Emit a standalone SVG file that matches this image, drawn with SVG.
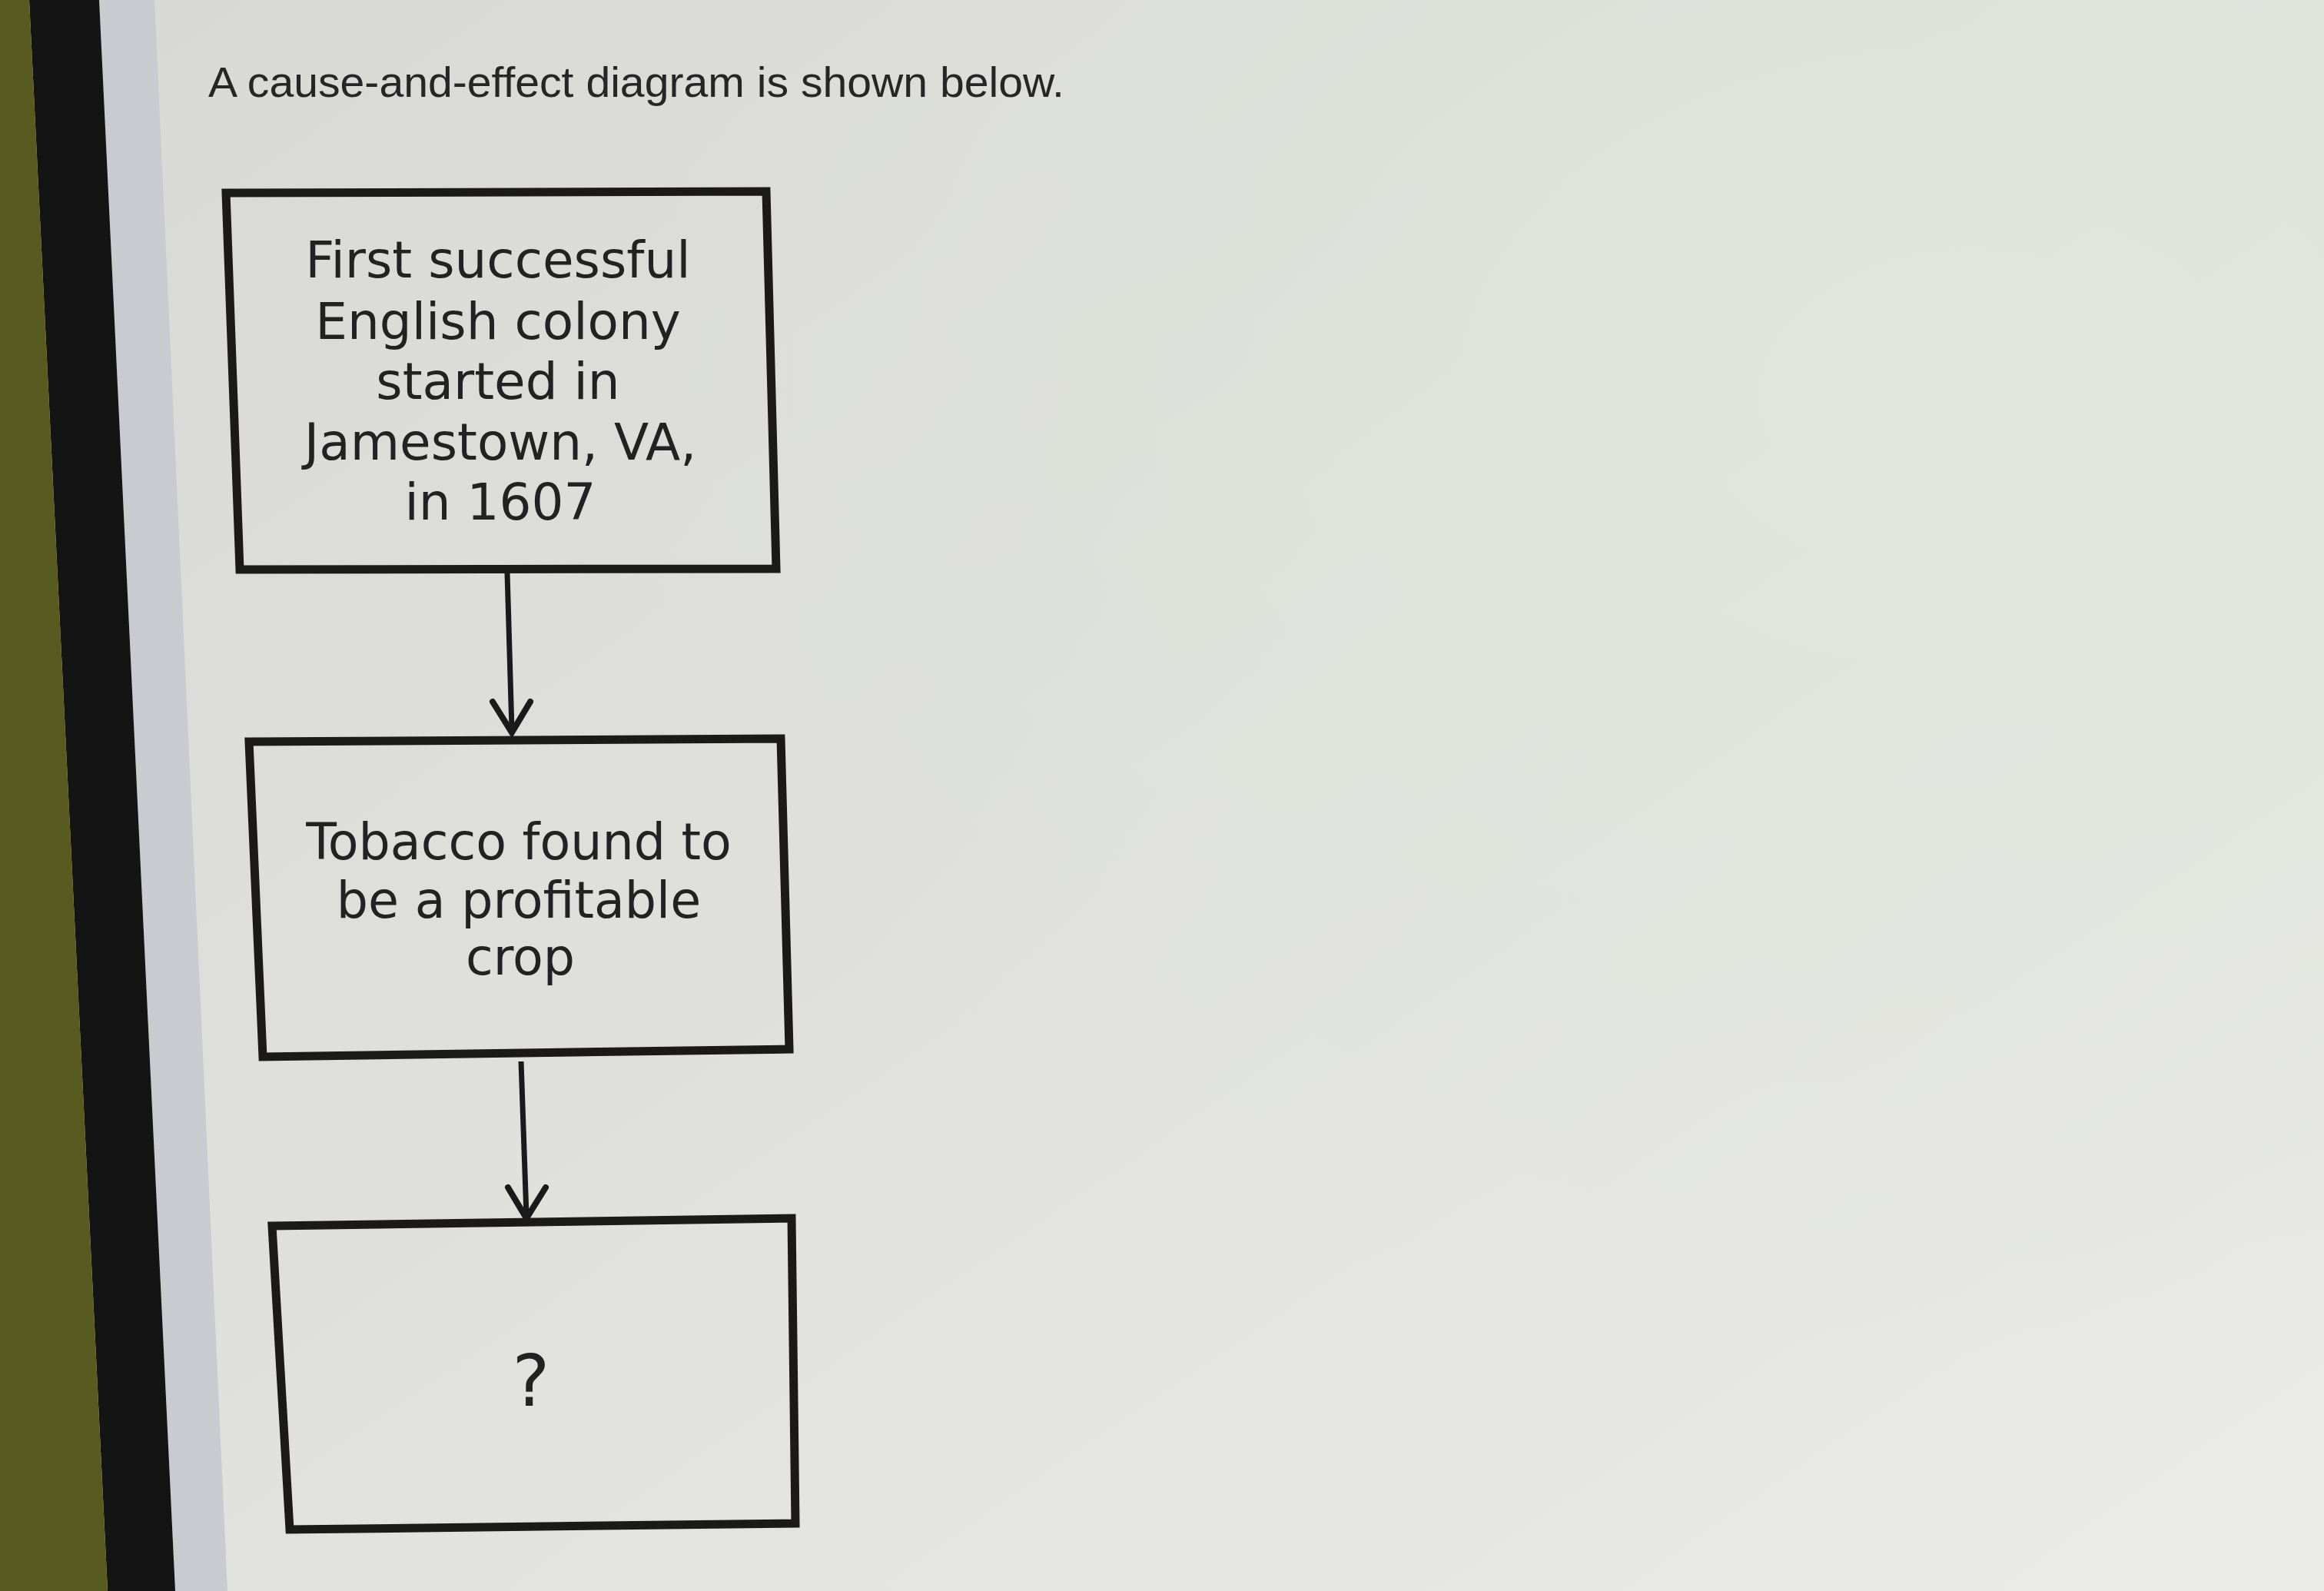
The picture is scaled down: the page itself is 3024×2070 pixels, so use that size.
<svg xmlns="http://www.w3.org/2000/svg" width="3024" height="2070" viewBox="0 0 3024 2070">
  <defs>
    <linearGradient id="screen" x1="0" y1="0" x2="1" y2="1">
      <stop offset="0" stop-color="#d8d8d4"/>
      <stop offset="0.45" stop-color="#dfe0dc"/>
      <stop offset="1" stop-color="#ebebe8"/>
    </linearGradient>
    <radialGradient id="moire" cx="0.85" cy="0.25" r="0.6">
      <stop offset="0" stop-color="#e2e6dd" stop-opacity="0.9"/>
      <stop offset="1" stop-color="#dfe3dc" stop-opacity="0"/>
    </radialGradient>
    <style>
      .box { fill: none; stroke: #1c1a18; stroke-width: 11; stroke-linejoin: miter; }
      .conn { stroke: #1a1a1a; stroke-width: 7; fill: none; }
      .head { stroke: #1a1a1a; stroke-width: 8; fill: none; stroke-linejoin: miter; stroke-linecap: round; }
      .lbl { font-family: "DejaVu Sans", Verdana, sans-serif; font-size: 66px; fill: #222222; text-anchor: middle; }
      .title { font-family: "Liberation Sans", Arial, sans-serif; font-size: 56px; fill: #262626; }
    </style>
  </defs>

  <!-- photo surroundings -->
  <rect x="0" y="0" width="3024" height="2070" fill="url(#screen)"/>
  <rect x="0" y="0" width="3024" height="2070" fill="url(#moire)"/>
  <polygon points="129,0 201,0 296,2070 228,2070" fill="#c9cbd1"/>
  <polygon points="38,0 129,0 228,2070 140,2070" fill="#141414"/>
  <polygon points="0,0 38,0 140,2070 0,2070" fill="#595a20"/>

  <text class="title" x="271" y="126" textLength="1114" lengthAdjust="spacingAndGlyphs">A cause-and-effect diagram is shown below.</text>

  <g id="connectors">
    <g id="edge1">
      <line class="conn" x1="660" y1="745" x2="666" y2="950"/>
      <polyline class="head" points="641,913 666,953 690,913"/>
    </g>
    <g id="edge2">
      <line class="conn" x1="678" y1="1381" x2="685" y2="1582"/>
      <polyline class="head" points="661,1545 685,1585 710,1545"/>
    </g>
  </g>

  <g id="node1">
    <polygon class="box" points="294,251 997,249 1010,740 312,741"/>
    <text class="lbl" x="648" y="361">First successful</text>
    <text class="lbl" x="648" y="441">English colony</text>
    <text class="lbl" x="648" y="519">started in</text>
    <text class="lbl" x="651" y="598">Jamestown, VA,</text>
    <text class="lbl" x="651" y="676">in 1607</text>
  </g>

  <g id="node2">
    <polygon class="box" points="324,965 1016,961 1027,1365 342,1375"/>
    <text class="lbl" x="675" y="1118" style="font-size:65px">Tobacco found to</text>
    <text class="lbl" x="675" y="1194" style="font-size:65px">be a profitable</text>
    <text class="lbl" x="677" y="1268" style="font-size:65px">crop</text>
  </g>

  <g id="node3">
    <polygon class="box" points="354,1595 1030,1585 1035,1982 377,1990"/>
    <text class="lbl" x="691" y="1829" style="font-size:92px">?</text>
  </g>
</svg>
